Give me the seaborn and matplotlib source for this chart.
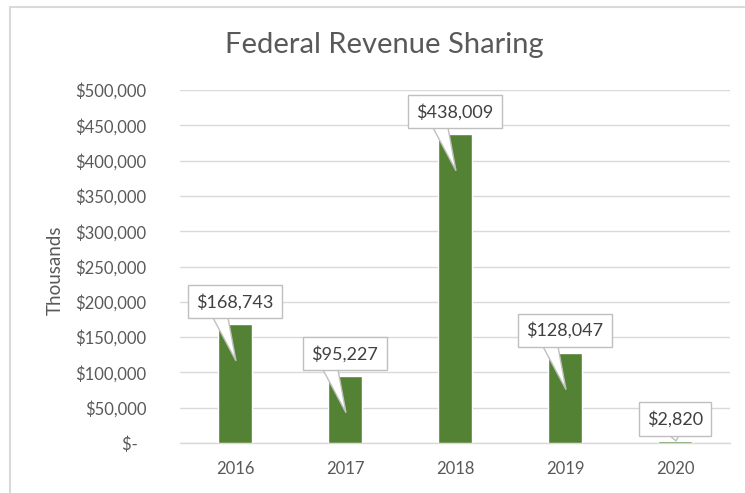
import matplotlib
matplotlib.use("Agg")
import matplotlib.pyplot as plt
import seaborn as sns
import pandas as pd
from matplotlib.lines import Line2D
from matplotlib.patches import Polygon

years = ["2016", "2017", "2018", "2019", "2020"]
revenue = [168743, 95227, 438009, 128047, 2820]
y_ticks = [0, 50000, 100000, 150000, 200000, 250000, 300000, 350000, 400000, 450000, 500000]

df = pd.DataFrame({"Year": years, "Revenue": revenue})

sns.set_theme(style="white")
plt.rcParams["font.family"] = ["Lato", "DejaVu Sans"]

fig = plt.figure(figsize=(7.45, 4.93), dpi=100)
ax = fig.add_axes([180 / 745, 1 - 443 / 493, 550 / 745, 353 / 493])

sns.barplot(data=df, x="Year", y="Revenue", color="#548235", saturation=1,
            width=0.31, ax=ax, zorder=3)

ax.set_ylim(0, 500000)
ax.set_xlim(-0.5, 4.5)
ax.set_yticks(y_ticks)
ax.set_yticklabels([f"${v:,.0f}" if v else "$-  " for v in y_ticks])
ax.yaxis.grid(True, color="#d9d9d9", linewidth=1, zorder=0)
ax.set_axisbelow(True)
for s in ["top", "right", "left"]:
    ax.spines[s].set_visible(False)
ax.spines["bottom"].set_color("#d9d9d9")
ax.spines["bottom"].set_linewidth(1)
ax.tick_params(axis="both", length=0, labelsize=12, labelcolor="#595959")
ax.tick_params(axis="y", pad=24)
ax.tick_params(axis="x", pad=13)
ax.set_xlabel("")
ax.set_ylabel("Thousands", fontsize=13.5, color="#595959")
ax.yaxis.set_label_coords(-0.212, 0.49)

fig.text(384 / 745, 1 - 45 / 493, "Federal Revenue Sharing", ha="center",
         va="center", fontsize=21, color="#595959")

py = 500000 / 353.0   # data units per pixel (y)
pxu = 1 / 110.0       # data units per pixel (x)
for i, v in enumerate(revenue):
    box_bottom = v + 6 * py
    tip_y = v - 37 * py if v > 20 * py else v
    depth = (box_bottom - tip_y) / py
    tip_x = i + 1 * pxu
    if v > 20 * py:
        lx, rx = -22, -7
    else:
        lx, rx = -6, 4
    # extend the base 6 px into the box so the box hides it
    ext = 6.0
    left = (i + (lx - (1 - lx) * ext / depth) * pxu, box_bottom + ext * py)
    right = (i + (rx - (1 - rx) * ext / depth) * pxu, box_bottom + ext * py)
    ax.add_patch(Polygon([left, right, (tip_x, tip_y)], closed=True,
                         fc="white", ec="#bfbfbf", lw=1, zorder=5))
    ax.text(i, v + 22 * py, f"${v:,.0f}", ha="center", va="center",
            fontsize=13, color="#404040", zorder=6,
            bbox=dict(boxstyle="square,pad=0.45", fc="white", ec="#bfbfbf", lw=1))

fig.add_artist(Line2D([10 / 745, 10 / 745], [0, 1 - 7 / 493],
                      transform=fig.transFigure, color="#d9d9d9", lw=1.5))
fig.add_artist(Line2D([10 / 745, 1], [1 - 7 / 493, 1 - 7 / 493],
                      transform=fig.transFigure, color="#d9d9d9", lw=1.5))

fig.savefig("out.png", dpi=100)
